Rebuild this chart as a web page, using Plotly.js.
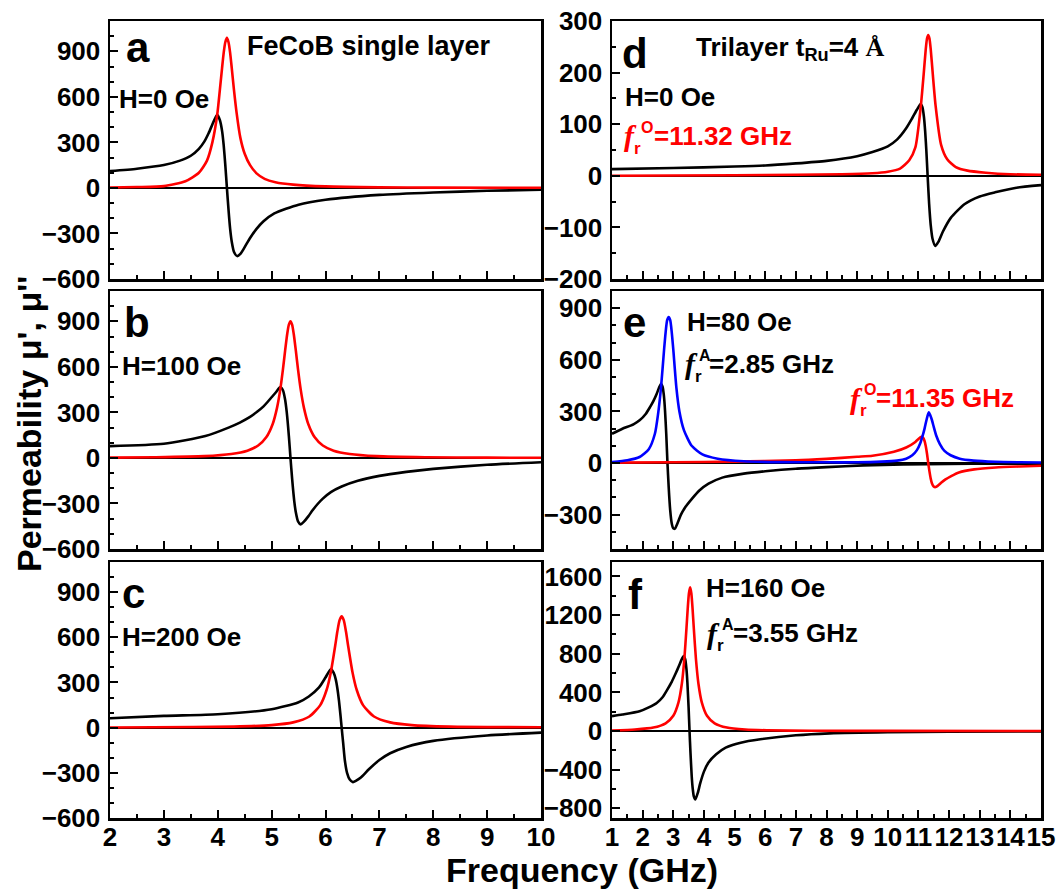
<!DOCTYPE html>
<html>
<head>
<meta charset="utf-8">
<script src="https://cdn.plot.ly/plotly-3.0.1.min.js"></script>
<style>html,body{margin:0;padding:0;background:#fff;}#chart{width:1060px;height:894px;}</style>
</head>
<body>
<div id="chart"></div>
<script>
// ---------- data ----------
// Panel a : FeCoB single layer, H = 0 Oe
const aFreqRe = [2, 2.5, 3, 3.3, 3.5, 3.65, 3.75, 3.83, 3.9, 3.95, 3.99, 4.04, 4.08, 4.11, 4.14, 4.17, 4.2, 4.23, 4.26, 4.3, 4.36, 4.42, 4.5, 4.6, 4.72, 4.85, 5.05, 5.5, 6, 7, 8, 9, 10];
const aMuRe   = [111, 127, 151, 180, 212, 258, 305, 360, 418, 458, 482, 446, 376, 282, 152, 0, -145, -270, -355, -420, -449, -435, -390, -330, -270, -220, -168, -110, -78, -46, -30, -19, -12];
const aFreqIm = [2, 2.5, 3, 3.4, 3.65, 3.8, 3.9, 3.99, 4.04, 4.08, 4.11, 4.14, 4.17, 4.2, 4.23, 4.26, 4.3, 4.35, 4.42, 4.5, 4.6, 4.72, 4.87, 5.07, 5.4, 6, 7, 8, 10];
const aMuIm   = [3, 6, 12, 44, 100, 180, 300, 482, 650, 790, 890, 960, 990, 960, 890, 790, 650, 495, 330, 225, 150, 96, 60, 38, 22, 10, 4, 2, 1];

// Panel b : H = 100 Oe
const bFreqRe = [2, 3, 3.77, 4.2, 4.41, 4.6, 4.73, 4.85, 4.92, 5.0, 5.08, 5.16, 5.21, 5.25, 5.28, 5.32, 5.35, 5.38, 5.42, 5.45, 5.49, 5.54, 5.6, 5.68, 5.76, 5.85, 5.95, 6.1, 6.3, 6.6, 7.0, 7.5, 8, 9, 10];
const bMuRe   = [78, 93, 144, 200, 233, 270, 304, 340, 367, 400, 433, 467, 446, 385, 303, 144, 0, -135, -284, -360, -418, -438, -420, -385, -345, -305, -268, -225, -188, -150, -118, -92, -72, -45, -28];
const bFreqIm = [2, 2.85, 3.75, 4.25, 4.55, 4.75, 4.9, 5.02, 5.1, 5.16, 5.21, 5.25, 5.29, 5.32, 5.35, 5.38, 5.41, 5.45, 5.49, 5.54, 5.6, 5.68, 5.8, 5.95, 6.15, 6.45, 6.95, 7.85, 9, 10];
const bMuIm   = [2, 5, 12, 26, 48, 82, 136, 224, 330, 450, 583, 705, 818, 878, 900, 878, 818, 705, 583, 450, 330, 224, 136, 82, 48, 26, 12, 5, 2, 1];

// Panel c : H = 200 Oe
const cFreqRe = [2, 3, 4, 5, 5.49, 5.69, 5.88, 6.0, 6.1, 6.15, 6.19, 6.22, 6.25, 6.28, 6.3, 6.33, 6.36, 6.4, 6.45, 6.51, 6.57, 6.65, 6.81, 7.0, 7.2, 7.5, 8, 9, 10];
const cMuRe   = [62, 78, 89, 122, 167, 207, 267, 333, 389, 365, 321, 262, 179, 75, 0, -110, -220, -300, -345, -362, -352, -333, -275, -215, -170, -128, -88, -52, -33];
const cFreqIm = [2, 2.8, 4.3, 5.0, 5.4, 5.7, 5.9, 6.02, 6.1, 6.18, 6.22, 6.26, 6.3, 6.34, 6.38, 6.42, 6.5, 6.58, 6.7, 6.9, 7.2, 7.6, 8.3, 10];
const cMuIm   = [1, 2.4, 7, 17, 35, 74, 148, 250, 370, 544, 638, 712, 740, 712, 638, 544, 370, 250, 148, 74, 35, 17, 7, 2.4];

// Panel d : trilayer t_Ru = 4 A, H = 0 Oe
const dFreqRe = [1, 3, 5, 6, 7, 8, 9, 9.5, 10, 10.3, 10.6, 10.8, 10.95, 11.07, 11.13, 11.18, 11.22, 11.26, 11.3, 11.35, 11.4, 11.46, 11.55, 11.65, 11.8, 12.05, 12.5, 13, 13.5, 14.2, 15];
const dMuRe   = [13, 15, 18, 20, 24, 29, 38, 46, 57, 70, 92, 112, 128, 139, 133, 114, 86, 47, 0, -55, -95, -122, -136, -128, -108, -82, -55, -40, -32, -23, -18];
const dFreqIm = [1, 5, 7, 8.5, 9.5, 10, 10.4, 10.7, 10.9, 11.08, 11.17, 11.24, 11.28, 11.32, 11.36, 11.4, 11.47, 11.56, 11.74, 11.94, 12.22, 12.6, 13.2, 14, 15];
const dMuIm   = [0, 1, 2, 3, 5, 8, 14, 30, 55, 136, 196, 246, 266, 273, 266, 246, 196, 136, 60, 32, 17, 10, 6, 3, 2];

// Panel e : H = 80 Oe (black, red, blue curves)
const eFreqBlack = [1, 1.34, 1.7, 1.9, 2.1, 2.24, 2.35, 2.46, 2.54, 2.6, 2.65, 2.69, 2.73, 2.77, 2.81, 2.85, 2.9, 2.95, 3.0, 3.05, 3.15, 3.25, 3.4, 3.6, 3.85, 4.15, 4.6, 5.3, 6, 7, 8, 9.2, 10.5, 12, 13.5, 15];
const eMuBlack   = [170, 199, 225, 248, 285, 325, 360, 403, 440, 461, 444, 397, 306, 170, 0, -140, -276, -352, -380, -382, -345, -300, -255, -210, -160, -120, -85, -62, -48, -33, -24, -14, -8, -5, -4, -4];
const eFreqRed   = [1, 3, 5, 7, 8, 9, 9.5, 10.2, 10.6, 10.9, 11.0, 11.1, 11.15, 11.2, 11.24, 11.28, 11.32, 11.36, 11.4, 11.44, 11.49, 11.56, 11.64, 11.74, 11.87, 12.07, 12.32, 12.82, 13.52, 14.3, 15];
const eMuRed     = [2, 4, 8, 15, 24, 36, 42, 65, 90, 122, 140, 152, 147, 128, 98, 54, 0, -49, -90, -118, -135, -140, -131, -115, -97, -76, -55, -37, -26, -20, -16];
const eFreqBlue  = [1, 1.5, 1.9, 2.2, 2.4, 2.5, 2.6, 2.7, 2.75, 2.8, 2.85, 2.9, 2.95, 3.0, 3.1, 3.2, 3.35, 3.6, 3.95, 4.45, 5.3, 6.5, 8, 9, 9.8, 10.3, 10.6, 10.8, 10.95, 11.06, 11.14, 11.2, 11.25, 11.3, 11.34, 11.38, 11.44, 11.5, 11.58, 11.7, 11.85, 12.05, 12.35, 12.8, 13.5, 14.3, 15];
const eMuBlue    = [6, 16, 35, 80, 170, 280, 440, 660, 760, 830, 848, 830, 760, 660, 440, 300, 190, 100, 50, 25, 10, 5, 4, 4, 8, 14, 25, 45, 75, 115, 160, 200, 240, 275, 295, 280, 250, 210, 160, 110, 70, 45, 25, 14, 7, 4, 3];

// Panel f : H = 160 Oe
const fFreqRe = [1, 1.34, 1.9, 2.2, 2.46, 2.65, 2.8, 2.95, 3.08, 3.18, 3.27, 3.34, 3.39, 3.43, 3.46, 3.5, 3.53, 3.56, 3.6, 3.63, 3.67, 3.72, 3.8, 3.88, 4.0, 4.15, 4.4, 4.71, 5.2, 5.84, 7, 8.1, 10, 12, 15];
const fMuRe   = [154, 171, 205, 245, 291, 350, 427, 510, 598, 670, 740, 776, 741, 640, 504, 240, 0, -218, -460, -583, -676, -708, -640, -540, -420, -325, -240, -171, -120, -85, -44, -24, -12, -7, -4];
const fFreqIm = [1, 1.75, 2.35, 2.75, 3.0, 3.17, 3.28, 3.36, 3.43, 3.47, 3.51, 3.55, 3.59, 3.63, 3.67, 3.74, 3.82, 3.93, 4.1, 4.35, 4.75, 5.35, 6.05, 7.5, 10, 15];
const fMuIm   = [4, 16, 36, 80, 158, 297, 492, 743, 1062, 1263, 1424, 1487, 1424, 1263, 1062, 743, 492, 297, 158, 80, 36, 16, 8, 3, 2, 1];

// axis ranges / ticks
const leftFreqRange = [2, 10];
const rightFreqRange = [1, 15];
const singleRange = [-600, 1100];
const dRange = [-200, 300];
const eRange = [-500, 1000];
const fRange = [-900, 1750];

// ---------- layout helpers ----------
const W = 1060, H = 894;
const FONT = 'Liberation Sans, Arial, Helvetica, sans-serif';
const SERIF = 'Liberation Serif, Times New Roman, serif';
const BLACK = '#000000', RED = '#ff0000', BLUE = '#0000ff';
const colL = [110, 541], colR = [612, 1041];
const rows = [[21, 279], [291, 549], [562, 818]];
const xd = c => [c[0] / W, c[1] / W];
const yd = r => [1 - r[1] / H, 1 - r[0] / H];

function xAxis(col, anchor, range, labels) {
  return {
    domain: xd(col), anchor: anchor, range: range, dtick: 1, tick0: 0,
    ticks: 'inside', ticklen: 8, tickwidth: 2, tickcolor: BLACK,
    minor: {ticks: 'inside', dtick: 0.5, ticklen: 4, tickwidth: 2, tickcolor: BLACK},
    showline: true, mirror: true, linewidth: 2.5, linecolor: BLACK,
    showgrid: false, zeroline: false, showticklabels: labels, tickangle: 0,
    ticklabelstandoff: -6,
    tickfont: {family: FONT, size: 26, color: BLACK, weight: 700}
  };
}
function yAxis(row, anchor, range, dtick, minor) {
  return {
    domain: yd(row), anchor: anchor, range: range, dtick: dtick, tick0: 0,
    ticks: 'inside', ticklen: 8, tickwidth: 2, tickcolor: BLACK,
    minor: {ticks: 'inside', dtick: minor, ticklen: 4, tickwidth: 2, tickcolor: BLACK},
    showline: true, mirror: true, linewidth: 2.5, linecolor: BLACK,
    showgrid: false, zeroline: true, zerolinecolor: BLACK, zerolinewidth: 1.8,
    ticklabelstandoff: 2,
    tickfont: {family: FONT, size: 26, color: BLACK, weight: 700}
  };
}
function line(x, y, color, xa, ya) {
  return {x: x, y: y, xaxis: xa, yaxis: ya, type: 'scatter', mode: 'lines',
          line: {color: color, width: 2.6, shape: 'spline', smoothing: 0.6},
          hoverinfo: 'skip'};
}
function ann(text, xpx, ypx, size, color, extra) {
  return Object.assign({
    text: text, xref: 'paper', yref: 'paper', x: xpx / W, y: 1 - ypx / H,
    xanchor: 'left', yanchor: 'middle', showarrow: false,
    font: {family: FONT, size: size, color: color, weight: 700}
  }, extra || {});
}
function frLabel(x0, yc, sup, rest, color, supDx, restDx) {
  return [
    ann('<i>f</i>', x0, yc, 30, color, {font: {family: SERIF, size: 30, color: color, weight: 700}}),
    ann('r', x0 + 10, yc + 12, 17, color),
    ann(sup, x0 + supDx, yc - 9, 16, color),
    ann(rest, x0 + restDx, yc, 26, color)
  ];
}

const traces = [
  line(aFreqRe, aMuRe, BLACK, 'x', 'y'),
  line(aFreqIm, aMuIm, RED, 'x', 'y'),
  line(bFreqRe, bMuRe, BLACK, 'x2', 'y2'),
  line(bFreqIm, bMuIm, RED, 'x2', 'y2'),
  line(cFreqRe, cMuRe, BLACK, 'x3', 'y3'),
  line(cFreqIm, cMuIm, RED, 'x3', 'y3'),
  line(dFreqRe, dMuRe, BLACK, 'x4', 'y4'),
  line(dFreqIm, dMuIm, RED, 'x4', 'y4'),
  line(eFreqBlack, eMuBlack, BLACK, 'x5', 'y5'),
  line(eFreqRed, eMuRed, RED, 'x5', 'y5'),
  line(eFreqBlue, eMuBlue, BLUE, 'x5', 'y5'),
  line(fFreqRe, fMuRe, BLACK, 'x6', 'y6'),
  line(fFreqIm, fMuIm, RED, 'x6', 'y6')
];

const annotations = [
  ann('a', 124, 47, 42, BLACK),
  ann('b', 122, 322, 42, BLACK),
  ann('c', 120, 593, 42, BLACK),
  ann('d', 620, 53, 42, BLACK),
  ann('e', 621, 322, 42, BLACK),
  ann('f', 626, 594, 42, BLACK),
  ann('FeCoB single layer', 245, 46, 27, BLACK),
  ann('H=0 Oe', 117, 99, 26, BLACK),
  ann('H=100 Oe', 120, 366, 26, BLACK),
  ann('H=200 Oe', 120, 637, 26, BLACK),
  ann('Trilayer t<sub>Ru</sub>=4 <span style="font-family:Liberation Serif">Å</span>', 694, 48, 26, BLACK),
  ann('H=0 Oe', 623, 97, 26, BLACK),
  ann('H=80 Oe', 685, 322, 26, BLACK),
  ann('H=160 Oe', 704, 588, 26, BLACK),
  ...frLabel(622, 136, 'O', '=11.32 GHz', RED, 17, 30),
  ...frLabel(683, 364, 'A', '=2.85 GHz', BLACK, 14, 24),
  ...frLabel(848, 398, 'O', '=11.35 GHz', RED, 14, 26),
  ...frLabel(705, 633, 'A', '=3.55 GHz', BLACK, 15, 26),
  ann("Permeability μ', μ''", 29, 424, 34, BLACK, {xanchor: 'center', textangle: -90}),
  ann('Frequency (GHz)', 582, 870, 34, BLACK, {xanchor: 'center'})
];

const layout = {
  width: W, height: H, margin: {l: 0, r: 0, t: 0, b: 0},
  paper_bgcolor: '#ffffff', plot_bgcolor: '#ffffff', showlegend: false,
  xaxis:  xAxis(colL, 'y',  leftFreqRange, false),
  xaxis2: xAxis(colL, 'y2', leftFreqRange, false),
  xaxis3: xAxis(colL, 'y3', leftFreqRange, true),
  xaxis4: xAxis(colR, 'y4', rightFreqRange, false),
  xaxis5: xAxis(colR, 'y5', rightFreqRange, false),
  xaxis6: xAxis(colR, 'y6', rightFreqRange, true),
  yaxis:  yAxis(rows[0], 'x',  singleRange, 300, 100),
  yaxis2: yAxis(rows[1], 'x2', singleRange, 300, 100),
  yaxis3: yAxis(rows[2], 'x3', singleRange, 300, 100),
  yaxis4: yAxis(rows[0], 'x4', dRange, 100, 50),
  yaxis5: yAxis(rows[1], 'x5', eRange, 300, 100),
  yaxis6: yAxis(rows[2], 'x6', fRange, 400, 200),
  annotations: annotations
};

Plotly.newPlot('chart', traces, layout, {displayModeBar: false, staticPlot: true});
</script>
</body>
</html>
